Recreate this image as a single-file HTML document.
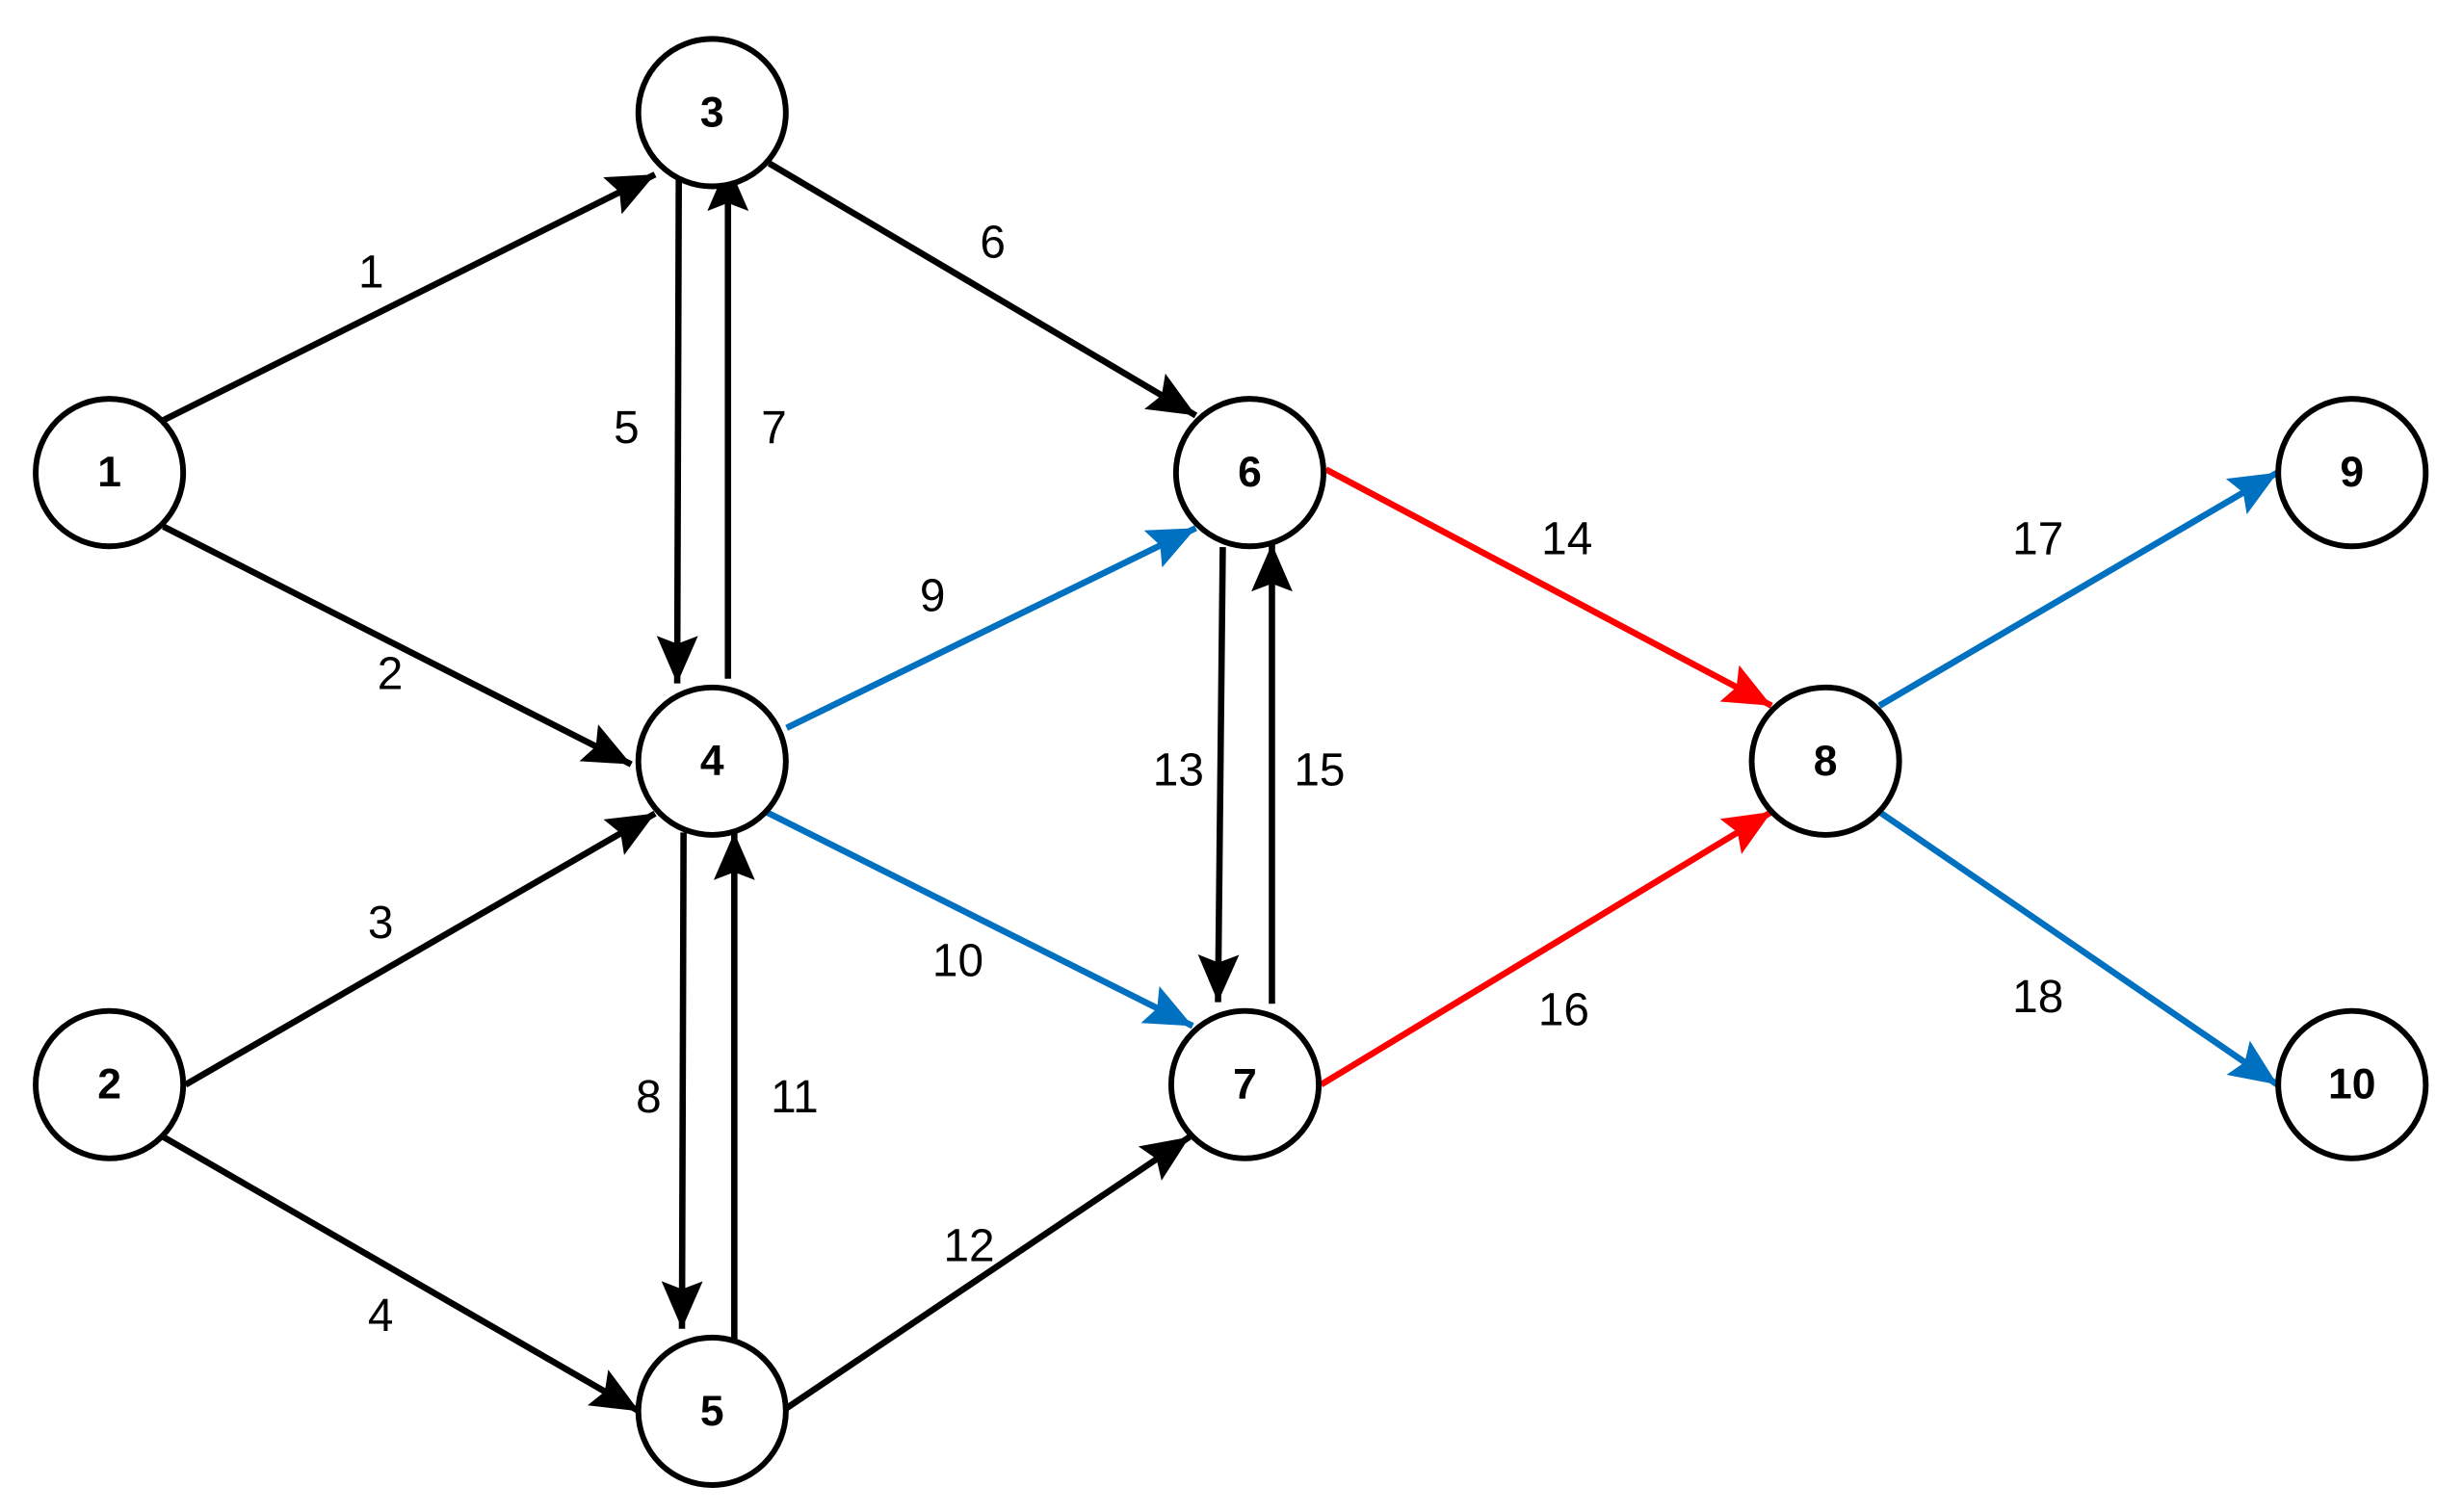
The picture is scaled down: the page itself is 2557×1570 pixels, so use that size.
<!DOCTYPE html>
<html><head><meta charset="utf-8"><style>
html,body{margin:0;padding:0;background:#fff;}
svg{display:block;}
text{font-family:"Liberation Sans Narrow","Liberation Sans",sans-serif;}
</style></head><body>
<svg width="2557" height="1570" viewBox="0 0 1553 953.5" xmlns="http://www.w3.org/2000/svg">
<defs>
<marker id="k" markerUnits="userSpaceOnUse" markerWidth="32" markerHeight="26" refX="30" refY="13" orient="auto"><path d="M0,0 L30,13 L0,26 L5,13 Z" fill="#000"/></marker>
<marker id="b" markerUnits="userSpaceOnUse" markerWidth="32" markerHeight="26" refX="30" refY="13" orient="auto"><path d="M0,0 L30,13 L0,26 L5,13 Z" fill="#0070C0"/></marker>
<marker id="r" markerUnits="userSpaceOnUse" markerWidth="32" markerHeight="26" refX="30" refY="13" orient="auto"><path d="M0,0 L30,13 L0,26 L5,13 Z" fill="#FF0000"/></marker>
</defs>
<g stroke-width="4" fill="none">
<g stroke="#000">
<line x1="103" y1="265" x2="413" y2="110" marker-end="url(#k)"/>
<line x1="103" y1="332" x2="398" y2="482" marker-end="url(#k)"/>
<line x1="117" y1="684" x2="413" y2="513" marker-end="url(#k)"/>
<line x1="103" y1="717" x2="403" y2="890" marker-end="url(#k)"/>
<line x1="428" y1="113" x2="427" y2="431" marker-end="url(#k)"/>
<line x1="459" y1="428" x2="459" y2="103" marker-end="url(#k)"/>
<line x1="485" y1="103" x2="754" y2="262" marker-end="url(#k)"/>
<line x1="431" y1="525" x2="430" y2="838" marker-end="url(#k)"/>
<line x1="463" y1="845" x2="463" y2="525" marker-end="url(#k)"/>
<line x1="496" y1="888" x2="750" y2="717" marker-end="url(#k)"/>
<line x1="771" y1="345" x2="768" y2="632" marker-end="url(#k)"/>
<line x1="802" y1="633" x2="802" y2="343" marker-end="url(#k)"/>
</g>
<g stroke="#0070C0">
<line x1="496" y1="459" x2="754" y2="333" marker-end="url(#b)"/>
<line x1="483" y1="512" x2="752" y2="647" marker-end="url(#b)"/>
<line x1="1185" y1="445" x2="1436" y2="298" marker-end="url(#b)"/>
<line x1="1185" y1="512" x2="1436" y2="684" marker-end="url(#b)"/>
</g>
<g stroke="#FF0000">
<line x1="836" y1="296" x2="1117" y2="445" marker-end="url(#r)"/>
<line x1="833" y1="684" x2="1117" y2="512" marker-end="url(#r)"/>
</g>
</g>
<g stroke="#000" stroke-width="3.6" fill="#fff">
<circle cx="69" cy="298" r="46.5"/>
<circle cx="69" cy="684" r="46.5"/>
<circle cx="449" cy="71" r="46.5"/>
<circle cx="449" cy="480" r="46.5"/>
<circle cx="449" cy="890" r="46.5"/>
<circle cx="788" cy="298" r="46.5"/>
<circle cx="785" cy="684" r="46.5"/>
<circle cx="1151" cy="480" r="46.5"/>
<circle cx="1483" cy="298" r="46.5"/>
<circle cx="1483" cy="684" r="46.5"/>
</g>
<g font-size="27" font-weight="bold" text-anchor="middle" dominant-baseline="central" fill="#000">
<text x="69" y="298">1</text>
<text x="69" y="684">2</text>
<text x="449" y="71">3</text>
<text x="449" y="480">4</text>
<text x="449" y="890">5</text>
<text x="788" y="298">6</text>
<text x="785" y="684">7</text>
<text x="1151" y="480">8</text>
<text x="1483" y="298">9</text>
<text x="1483" y="684">10</text>
</g>
<g font-size="29" text-anchor="middle" dominant-baseline="central" fill="#000">
<text x="234" y="172">1</text>
<text x="246" y="425">2</text>
<text x="240" y="582">3</text>
<text x="240" y="830">4</text>
<text x="395" y="270">5</text>
<text x="488" y="270">7</text>
<text x="626" y="153">6</text>
<text x="588" y="376">9</text>
<text x="604" y="606">10</text>
<text x="409" y="692">8</text>
<text x="501" y="692">11</text>
<text x="611" y="786">12</text>
<text x="743" y="486">13</text>
<text x="832" y="486">15</text>
<text x="988" y="340">14</text>
<text x="986" y="637">16</text>
<text x="1285" y="340">17</text>
<text x="1285" y="629">18</text>
</g>
</svg>
</body></html>
